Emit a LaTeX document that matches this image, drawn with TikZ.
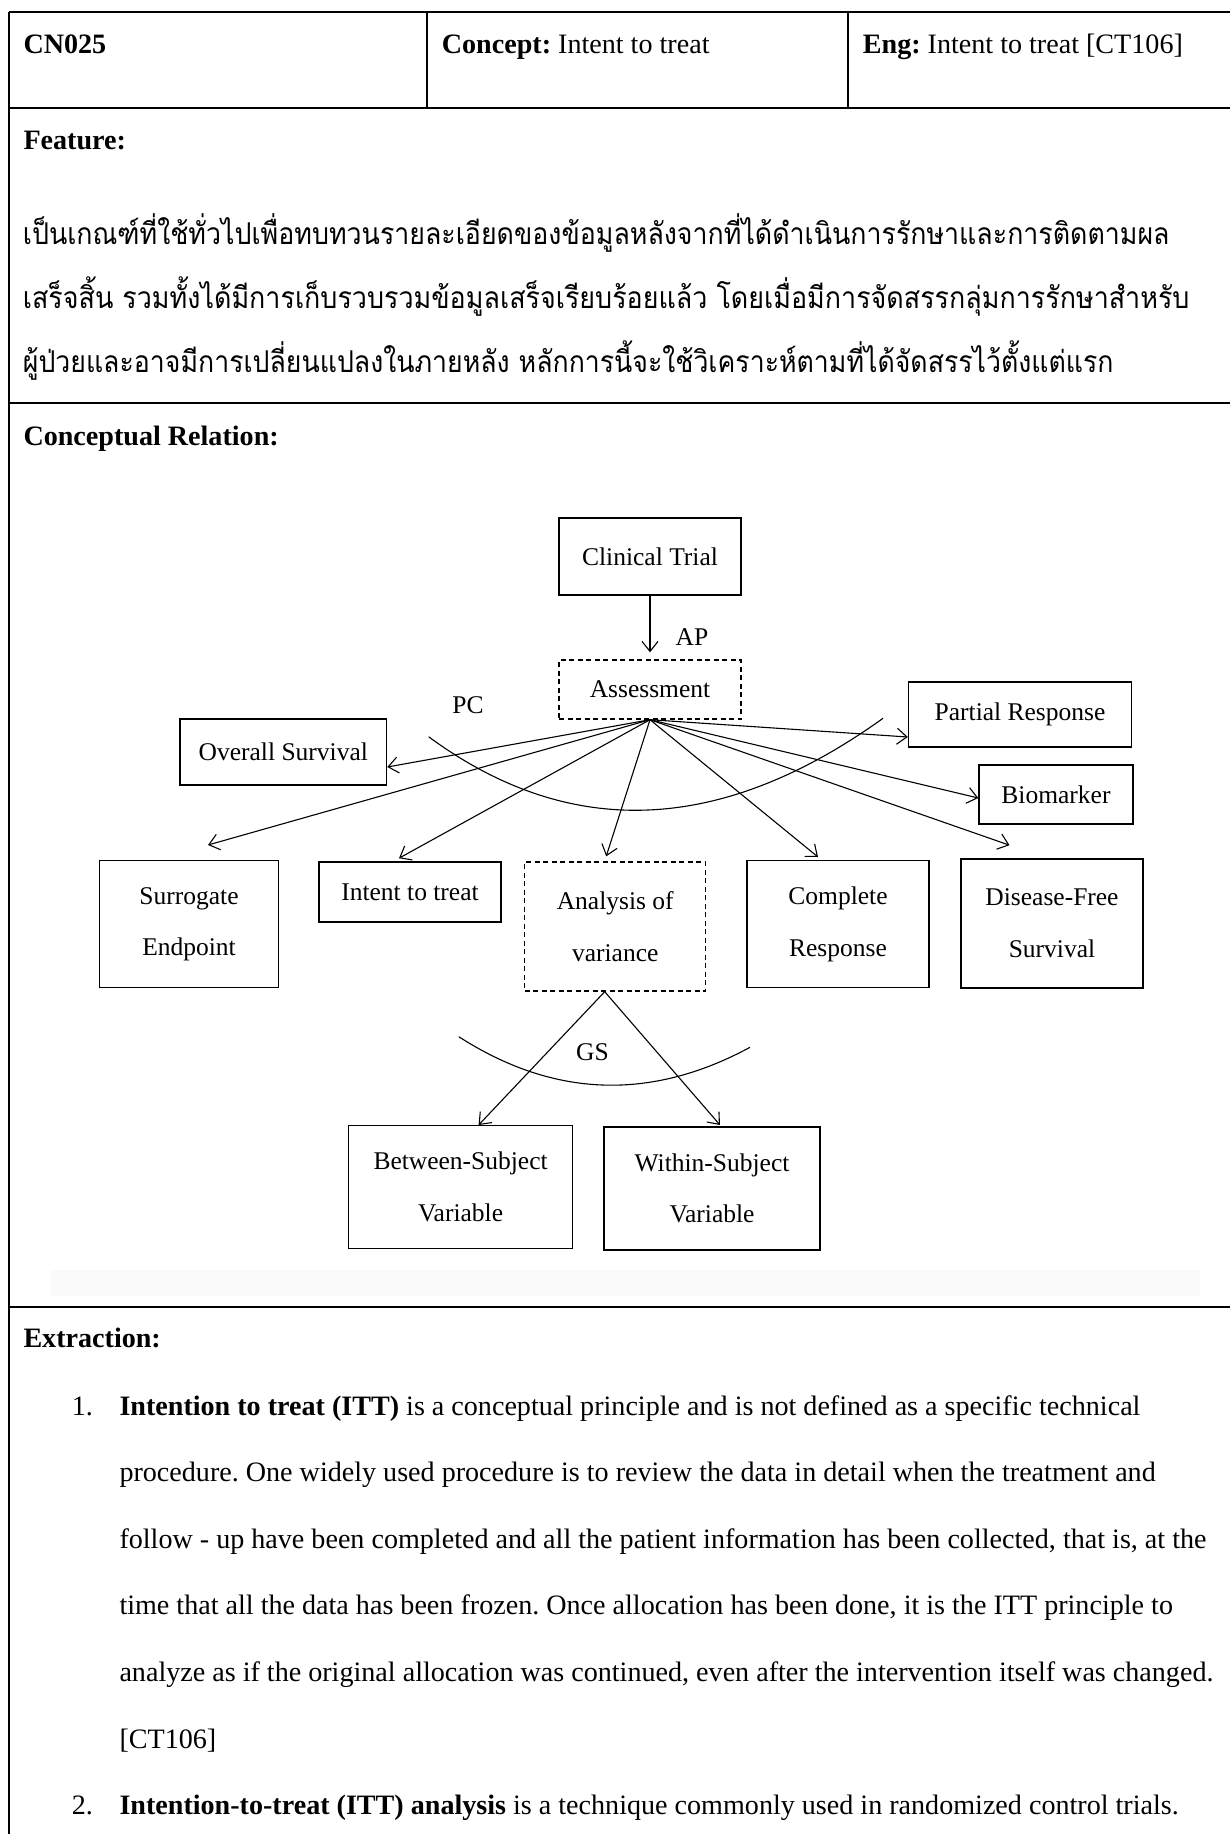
\documentclass[tikz,border=0pt]{standalone}
\usepackage{fontspec}
\setmainfont{Liberation Serif}
\newfontfamily\thaifont[Script=Thai]{Loma}
\usetikzlibrary{arrows.meta,calc}
\frenchspacing

\begin{document}
\begin{tikzpicture}[x=1pt,y=-1pt,
  rule/.style={line width=2pt},
  body/.style={anchor=base west,inner sep=0pt,font=\fontsize{28.1}{33}\selectfont},
  thai/.style={anchor=base west,inner sep=0pt,font=\thaifont\fontsize{30}{36}\selectfont},
  box/.style={draw,line width=1.4pt,inner sep=0pt,align=center,font=\fontsize{25.5}{51.5}\selectfont},
  dbox/.style={box,dash pattern=on 5pt off 3.5pt},
  link/.style={line width=1.1pt,-{Straight Barb[length=10pt,width=16pt]}},
  curve/.style={line width=1.1pt},
  lbl/.style={inner sep=0pt,font=\fontsize{25.5}{30}\selectfont}]

\useasboundingbox (0,0) rectangle (1230,1834);

% ---------- table frame ----------
\coordinate (tl) at (9.3,12);
\coordinate (bl) at (9.3,1834);
\draw[rule] (tl) -- (bl);
\draw[rule] (9.3,12) -- (1230,12);
\draw[rule] (9.3,107.7) -- (1230,107.7);
\draw[rule] (9.3,402.7) -- (1230,402.7);
\draw[rule] (9.3,1306.7) -- (1230,1306.7);
\draw[rule] (427,12) -- (427,107.7);
\draw[rule] (847.7,12) -- (847.7,107.7);

% ---------- header row ----------
\node[body] (cn) at (23.3,53) {\textbf{CN025}};
\node[body] (cc) at (441.7,53) {\textbf{Concept:} Intent to treat};
\node[body] (en) at (862.7,53) {\textbf{Eng:} Intent to treat [CT106]};

% ---------- feature ----------
\node[body] (ft) at (23.3,149.3) {\textbf{Feature:}};
\node[thai] (th1) at (22.7,244) {\resizebox{1146.6pt}{\height}{เป็นเกณฑ์ที่ใช้ทั่วไปเพื่อทบทวนรายละเอียดของข้อมูลหลังจากที่ได้ดำเนินการรักษาและการติดตามผล}};
\node[thai] (th2) at (22.7,308) {\resizebox{1166.6pt}{\height}{เสร็จสิ้น รวมทั้งได้มีการเก็บรวบรวมข้อมูลเสร็จเรียบร้อยแล้ว โดยเมื่อมีการจัดสรรกลุ่มการรักษาสำหรับ}};
\node[thai] (th3) at (22.7,372) {\resizebox{1090.6pt}{\height}{ผู้ป่วยและอาจมีการเปลี่ยนแปลงในภายหลัง หลักการนี้จะใช้วิเคราะห์ตามที่ได้จัดสรรไว้ตั้งแต่แรก}};

% ---------- conceptual relation ----------
\node[body] (cr0) at (23.3,445) {\textbf{Conceptual Relation:}};
\fill[black!2] (50,1270) rectangle (1200,1296);

\node[box,minimum width=182pt,minimum height=77pt] (ct) at (650,556.5) {Clinical Trial};
\node[dbox,minimum width=182pt,minimum height=59pt] (as) at (650,689.5) {Assessment};
\node[box,minimum width=206.6pt,minimum height=66pt] (os) at (283.3,752) {Overall Survival};
\node[box,minimum width=223pt,minimum height=65pt] (pr) at (1020,714.5) {Partial Response};
\node[box,minimum width=154pt,minimum height=59pt] (bm) at (1056,794.5) {Biomarker};
\node[box,minimum width=179pt,minimum height=127pt] (se) at (189,924.2) {Surrogate\\Endpoint};
\node[box,minimum width=182pt,minimum height=60pt] (it) at (410,891.9) {Intent to treat};
\node[dbox,minimum width=181pt,minimum height=129pt] (av) at (615.2,926.5) {Analysis of\\variance};
\node[box,minimum width=182pt,minimum height=127pt] (cr) at (838,924.2) {Complete\\Response};
\node[box,minimum width=182pt,minimum height=129pt] (df) at (1052,923.4) {Disease-Free\\Survival};
\node[box,minimum width=224pt,minimum height=122.6pt] (bs) at (460.6,1187) {Between-Subject\\Variable};
\node[box,minimum width=216pt,minimum height=123pt] (ws) at (712,1188.5) {Within-Subject\\Variable};

\node[lbl] (ap) at (692,637) {AP};
\node[lbl] (pc) at (468,705) {PC};
\node[lbl] (gs) at (592.5,1052.5) {GS};

% Clinical Trial -> Assessment
\draw[link] (ct.south) -- ($(as.north)+(0,-7)$);

% fan out of Assessment
\coordinate (fan) at (as.south);
\draw[link] (fan) -- ($(os.east)+(0,15)$);
\draw[link] (fan) -- ($(pr.west)+(0,22.5)$);
\draw[link] (fan) -- ($(bm.west)+(0,3.5)$);
\draw[link] (fan) -- ($(se.north)+(19,-15)$);
\draw[link] (fan) -- ($(it.north)+(-11,-3)$);
\draw[link] (fan) -- ($(av.north)+(-9,-5)$);
\draw[link] (fan) -- ($(cr.north)+(-20,-3)$);
\draw[link] (fan) -- ($(df.north)+(-42.5,-13)$);

% PC arc across the fan
\coordinate (pca) at (428.6,736.7);
\coordinate (pcb) at (883,718.3);
\draw[curve] (pca) .. controls (569.7,840.6) and (721.1,834.4) .. (pcb);

% Analysis of variance -> subject variables
\coordinate (avs) at ($(av.south)+(-10.5,0)$);
\draw[link] (avs) -- ($(bs.north)+(18,0)$);
\draw[link] (avs) -- ($(ws.north)+(8,-1.3)$);

% GS arc
\coordinate (gsa) at (458.8,1036.7);
\coordinate (gsb) at (750,1047.3);
\draw[curve] (gsa) .. controls (553.5,1097.6) and (650.5,1101.1) .. (gsb);

% ---------- extraction ----------
\node[body] (ex) at (23.3,1347) {\textbf{Extraction:}};
\node[body] (n1) at (71.7,1415) {1.};
\node[body] (l1) at (119.3,1415) {\textbf{Intention to treat (ITT)} is a conceptual principle and is not defined as a specific technical};
\node[body] (l2) at (119.3,1481.6) {procedure. One widely used procedure is to review the data in detail when the treatment and};
\node[body] (l3) at (119.3,1548.2) {follow - up have been completed and all the patient information has been collected, that is, at the};
\node[body] (l4) at (119.3,1614.8) {time that all the data has been frozen. Once allocation has been done, it is the ITT principle to};
\node[body] (l5) at (119.3,1681.4) {analyze as if the original allocation was continued, even after the intervention itself was changed.};
\node[body] (l6) at (119.3,1748) {[CT106]};
\node[body] (n2) at (71.7,1814.6) {2.};
\node[body] (l7) at (119.3,1814.6) {\textbf{Intention-to-treat (ITT) analysis} is a technique commonly used in randomized control trials.};

\end{tikzpicture}
\end{document}
